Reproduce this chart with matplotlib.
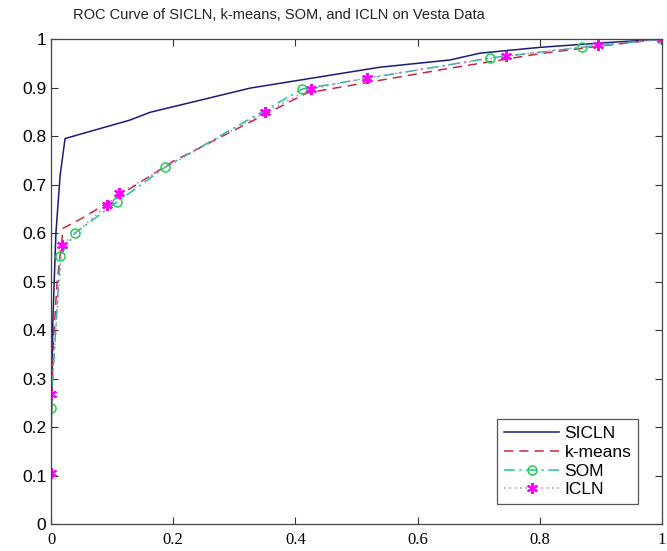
import matplotlib

matplotlib.use("Agg")
import matplotlib.pyplot as plt

# ROC points (false positive rate, true positive rate)
sicln_fpr = [0.0, 0.003, 0.008, 0.015, 0.023, 0.129, 0.162, 0.326, 0.538, 0.653, 0.702, 0.80, 0.90, 1.0]
sicln_tpr = [0.15, 0.42, 0.60, 0.72, 0.795, 0.833, 0.849, 0.899, 0.942, 0.957, 0.971, 0.983, 0.992, 1.0]

kmeans_fpr = [0.0, 0.004, 0.010, 0.020, 0.05, 0.10, 0.20, 0.326, 0.419, 0.538, 0.653, 0.80, 0.90, 1.0]
kmeans_tpr = [0.20, 0.38, 0.50, 0.61, 0.63, 0.668, 0.748, 0.829, 0.889, 0.915, 0.940, 0.970, 0.986, 1.0]

som_fpr = [0.0, 0.015, 0.039, 0.108, 0.187, 0.411, 0.718, 0.869, 1.0]
som_tpr = [0.239, 0.553, 0.600, 0.664, 0.736, 0.897, 0.961, 0.983, 1.0]

icln_fpr = [0.0, 0.0, 0.018, 0.092, 0.111, 0.350, 0.425, 0.517, 0.745, 0.895, 1.0]
icln_tpr = [0.105, 0.268, 0.575, 0.658, 0.682, 0.849, 0.897, 0.920, 0.965, 0.988, 1.0]

x_ticks = [0, 0.2, 0.4, 0.6, 0.8, 1]
x_labels = ["0", "0.2", "0.4", "0.6", "0.8", "1"]
y_ticks = [0, 0.1, 0.2, 0.3, 0.4, 0.5, 0.6, 0.7, 0.8, 0.9, 1]
y_labels = ["0", "0.1", "0.2", "0.3", "0.4", "0.5", "0.6", "0.7", "0.8", "0.9", "1"]

plt.rcParams["font.family"] = ["Liberation Sans", "DejaVu Sans"]

fig = plt.figure(figsize=(6.67, 5.51), dpi=100)
ax = fig.add_axes([0.0765, 0.049, 0.916, 0.88])

# matlab style asterisk marker
asterisk = (6, 2, 0)

ax.plot(sicln_fpr, sicln_tpr, color="#1c1c78", linewidth=1.1, label="SICLN")
ax.plot(kmeans_fpr, kmeans_tpr, color="#c8283c", linewidth=1.1,
        linestyle=(0, (6, 4)), label="k-means")
ax.plot(som_fpr, som_tpr, color="#20c0a0", linewidth=1.1,
        linestyle=(0, (7, 3, 1.5, 3)), marker="o", markersize=6.5,
        markerfacecolor="none", markeredgecolor="#1fd050", markeredgewidth=1.1,
        label="SOM")
ax.plot(icln_fpr, icln_tpr, color="#d070d0", linewidth=1.1,
        linestyle=(0, (1, 2.5)), marker=asterisk, markersize=8,
        markeredgecolor="#ff00ff", markeredgewidth=1.5,
        label="ICLN")

ax.set_xlim(0, 1)
ax.set_ylim(0, 1)
ax.set_xticks(x_ticks)
ax.set_xticklabels(x_labels, family=["Liberation Serif", "DejaVu Serif"], fontsize=12)
ax.set_yticks(y_ticks)
ax.set_yticklabels(y_labels, fontsize=12.5)
ax.tick_params(direction="in", length=5, top=True, right=True, width=0.8, color="#333333")
ax.tick_params(axis="x", pad=6)
for spine in ax.spines.values():
    spine.set_color("#444444")
    spine.set_linewidth(0.9)

ax.text(0.373, 1.035, "ROC Curve of SICLN, k-means, SOM, and ICLN on Vesta Data",
        transform=ax.transAxes, ha="center", va="bottom", fontsize=10.5, color="#222222")

leg = ax.legend(loc="lower right", bbox_to_anchor=(0.9755, 0.023), fontsize=12.5,
                fancybox=False, framealpha=1, edgecolor="#555555",
                handlelength=3.2, labelspacing=0.2, borderpad=0.4, handletextpad=0.3)
leg.get_frame().set_linewidth(0.9)

fig.savefig("out.png", dpi=100, facecolor="white")
